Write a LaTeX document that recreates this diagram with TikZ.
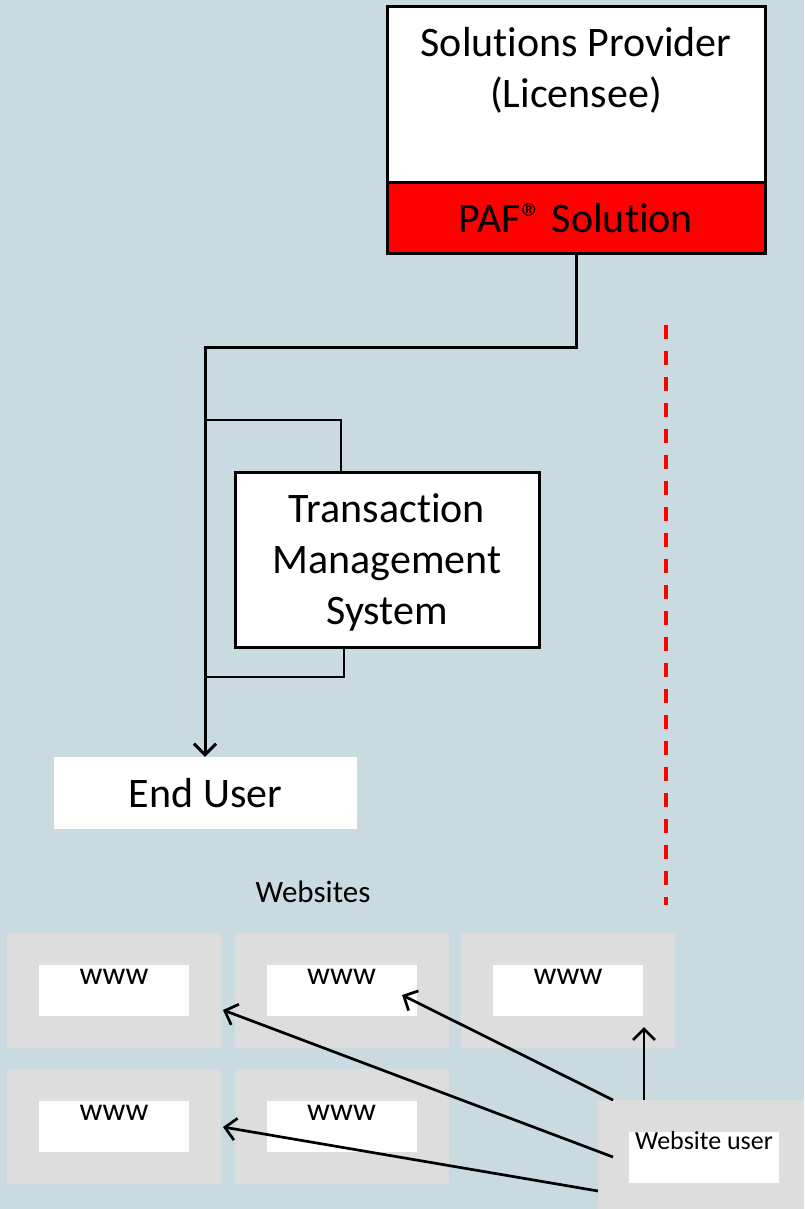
\documentclass[tikz,border=0pt]{standalone}
\usepackage{fontspec}
\setmainfont{Carlito}[Ligatures=NoCommon]
\usetikzlibrary{arrows.meta}
\definecolor{bg}{HTML}{C9DBE0}
\definecolor{tile}{HTML}{DDDDDD}
\definecolor{pafred}{HTML}{FF0000}
\begin{document}
\begin{tikzpicture}[x=1pt,y=-1pt,
  big/.style={font=\fontsize{42}{51}\selectfont, inner sep=0pt, anchor=base},
  boxw/.style={draw=black, line width=3pt, fill=white, inner sep=0pt},
  tilebox/.style={fill=tile, inner sep=0pt, minimum width=214pt, minimum height=115pt},
  wbox/.style={fill=white, inner sep=0pt, minimum width=150pt, minimum height=51pt},
  wtext/.style={font=\fontsize{32}{36}\selectfont, inner sep=0pt, anchor=base},
  thickline/.style={line width=3pt},
  thinline/.style={line width=2.1pt},
  arr/.style={line width=2.7pt, -{Straight Barb[length=11pt,width=22pt]}}
]
\fill[bg] (0,0) rectangle (804,1209);
\useasboundingbox (0,0) rectangle (804,1209);

% Solutions provider
\node[boxw, minimum width=378pt, minimum height=176pt] (sp) at (576,95) {};
\node[boxw, fill=pafred, minimum width=378pt, minimum height=70pt] (paf) at (576,218) {};
\node[big] (sp1) at (576,57) {Solutions Provider};
\node[big] (sp2) at (576,108) {(Licensee)};
\node[big] (paft) at (576,232) {PAF® Solution};

% Transaction Management System
\node[boxw, minimum width=304pt, minimum height=175pt] (tms) at (387,559.5) {};
\node[big] (tms1) at (387,522) {Transaction};
\node[big] (tms2) at (387,573) {Management};
\node[big] (tms3) at (387,624) {System};

% End user
\node[fill=white, inner sep=0pt, minimum width=303pt, minimum height=72pt] (eu) at (205.5,793) {};
\node[big] (eut) at (205.5,807) {End User};

% main connector
\coordinate (j1) at (205,347);
\draw[thickline, -{Straight Barb[length=11pt,width=22pt]}] (paf.south) -- (paf.south |- j1) -- (j1) -- (eu.north -| j1);

% loop through TMS
\coordinate (t1) at (205,420);
\coordinate (t2) at (205,677);
\draw[thinline] (t1) -| ([xshift=-46pt]tms.north);
\draw[thinline] ([xshift=-43pt]tms.south) |- (t2);

% red dashed divider
\coordinate (d1) at (666,325);
\coordinate (d2) at (666,905);
\draw[pafred, line width=3.6pt, dash pattern=on 14pt off 12pt] (d1) -- (d2);

% Websites
\node[font=\fontsize{31}{36}\selectfont, inner sep=0pt, anchor=base] (wl) at (313,902) {Websites};

\node[tilebox] (w1) at (114,990.5) {};
\node[tilebox] (w2) at (341.5,990.5) {};
\node[tilebox] (w3) at (568,990.5) {};
\node[tilebox] (w4) at (114,1126) {};
\node[tilebox] (w5) at (341.5,1126) {};
\node[wbox] (i1) at (114,990.5) {};
\node[wbox] (i2) at (341.5,990.5) {};
\node[wbox] (i3) at (568,990.5) {};
\node[wbox] (i4) at (114,1126.5) {};
\node[wbox] (i5) at (341.5,1126.5) {};
\node[wtext] (x1) at (114,984) {www};
\node[wtext] (x2) at (341.5,984) {www};
\node[wtext] (x3) at (568,984) {www};
\node[wtext] (x4) at (114,1120) {www};
\node[wtext] (x5) at (341.5,1120) {www};

% Website user
\node[fill=tile, inner sep=0pt, minimum width=206pt, minimum height=109pt] (wu) at (701,1154.5) {};
\node[wbox] (wui) at (704,1157.5) {};
\node[font=\fontsize{26}{30}\selectfont, inner sep=0pt, anchor=base] (wut) at (704,1149) {Website user};

% arrows from website user
\coordinate (s1) at (644,1100);
\coordinate (s2) at (613,1100);
\coordinate (s3) at (613,1157);
\coordinate (s4) at (598,1191);
\coordinate (e1) at (644,1027);
\coordinate (e2) at (402,995);
\coordinate (e3) at (223,1010);
\coordinate (e4) at (223,1127);
\draw[arr] (s1) -- (e1);
\draw[arr] (s2) -- (e2);
\draw[arr] (s3) -- (e3);
\draw[arr] (s4) -- (e4);
\end{tikzpicture}
\end{document}
